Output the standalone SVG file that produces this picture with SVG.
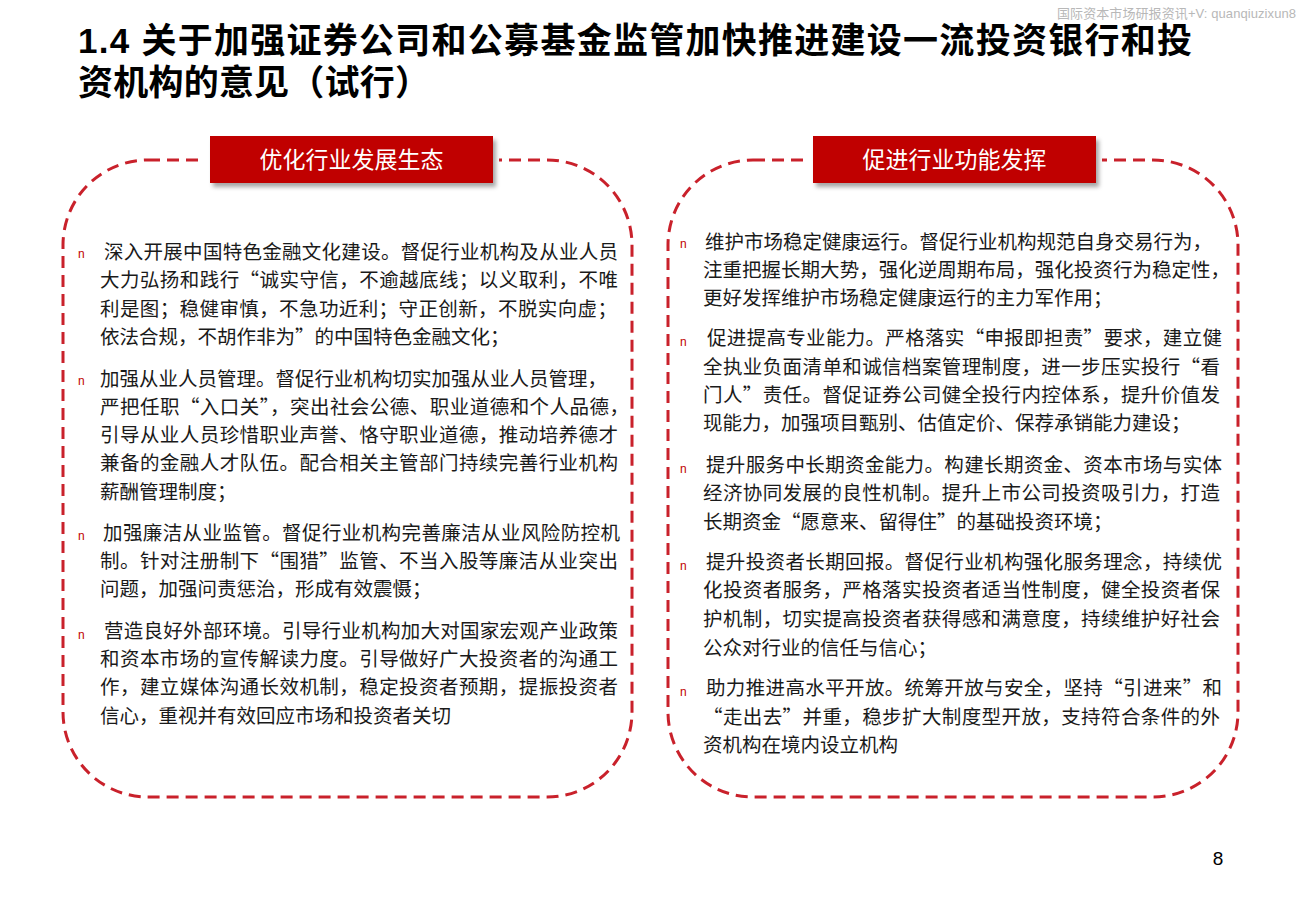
<svg xmlns="http://www.w3.org/2000/svg" width="1300" height="900" viewBox="0 0 1300 900">
<defs>
<style>
.title{font-family:"Liberation Sans","Noto Sans CJK SC",sans-serif;font-weight:bold;font-size:35px;fill:#000}
.wm{font-family:"Liberation Sans","Noto Sans CJK SC",sans-serif;font-size:13px;fill:#b8b8b8}
.hd{font-family:"Noto Sans CJK SC",sans-serif;font-size:23px;fill:#fff;text-anchor:middle}
.hdbox{fill:#c00000}
.frame{fill:none;stroke:#c9212b;stroke-width:3;stroke-dasharray:12 7}
.tx{font-family:"Noto Sans CJK SC",sans-serif;font-size:19.5px;fill:#1a1a1a}
.bl{font-family:"Liberation Sans",sans-serif;font-size:12px;fill:#c00000}
.pg{font-family:"Liberation Sans",sans-serif;font-size:19px;fill:#000;text-anchor:middle}
</style>
<filter id="sh" x="-10%" y="-20%" width="125%" height="160%">
<feDropShadow dx="3" dy="4" stdDeviation="2" flood-color="#000" flood-opacity="0.35"/>
</filter>
</defs>
<rect width="1300" height="900" fill="#fff"/>
<text class="wm" x="1296" y="18" text-anchor="end" textLength="239" lengthAdjust="spacing">国际资本市场研报资讯+V: quanqiuzixun8</text>
<text class="title" x="78" y="53" textLength="1114" lengthAdjust="spacing">1.4 关于加强证券公司和公募基金监管加快推进建设一流投资银行和投</text>
<text class="title" x="78" y="95" textLength="352" lengthAdjust="spacing">资机构的意见（试行）</text>

<g id="left-panel">
<rect class="frame" x="63" y="160" width="569" height="637" rx="85" ry="85"/>
<rect x="204" y="130" width="295" height="60" fill="#fff"/>
<rect class="hdbox" x="210" y="136" width="283" height="47" filter="url(#sh)"/>
<text class="hd" x="351.5" y="168">优化行业发展生态</text>
<text class="bl" x="78" y="258">n</text>
<text class="tx" x="104" y="259" textLength="514" lengthAdjust="spacing">深入开展中国特色金融文化建设。督促行业机构及从业人员</text>
<text class="tx" x="100" y="287.3" textLength="518" lengthAdjust="spacing">大力弘扬和践行“诚实守信，不逾越底线；以义取利，不唯</text>
<text class="tx" x="100" y="315.6" textLength="517" lengthAdjust="spacing">利是图；稳健审慎，不急功近利；守正创新，不脱实向虚；</text>
<text class="tx" x="100" y="344">依法合规，不胡作非为”的中国特色金融文化；</text>
<text class="bl" x="78" y="385">n</text>
<text class="tx" x="100" y="385.5">加强从业人员管理。督促行业机构切实加强从业人员管理，</text>
<text class="tx" x="100" y="414" textLength="529" lengthAdjust="spacing">严把任职“入口关”，突出社会公德、职业道德和个人品德，</text>
<text class="tx" x="100" y="442" textLength="518" lengthAdjust="spacing">引导从业人员珍惜职业声誉、恪守职业道德，推动培养德才</text>
<text class="tx" x="100" y="470" textLength="518" lengthAdjust="spacing">兼备的金融人才队伍。配合相关主管部门持续完善行业机构</text>
<text class="tx" x="100" y="499">薪酬管理制度；</text>
<text class="bl" x="78" y="540">n</text>
<text class="tx" x="103" y="540" textLength="517" lengthAdjust="spacing">加强廉洁从业监管。督促行业机构完善廉洁从业风险防控机</text>
<text class="tx" x="100" y="568" textLength="518" lengthAdjust="spacing">制。针对注册制下“围猎”监管、不当入股等廉洁从业突出</text>
<text class="tx" x="100" y="596">问题，加强问责惩治，形成有效震慑；</text>
<text class="bl" x="78" y="639">n</text>
<text class="tx" x="104" y="638" textLength="514" lengthAdjust="spacing">营造良好外部环境。引导行业机构加大对国家宏观产业政策</text>
<text class="tx" x="100" y="666" textLength="518" lengthAdjust="spacing">和资本市场的宣传解读力度。引导做好广大投资者的沟通工</text>
<text class="tx" x="100" y="694" textLength="518" lengthAdjust="spacing">作，建立媒体沟通长效机制，稳定投资者预期，提振投资者</text>
<text class="tx" x="100" y="723">信心，重视并有效回应市场和投资者关切</text>
</g>

<g id="right-panel">
<rect class="frame" x="668" y="160" width="570" height="637" rx="85" ry="85"/>
<rect x="807" y="130" width="295" height="60" fill="#fff"/>
<rect class="hdbox" x="813" y="136" width="283" height="47" filter="url(#sh)"/>
<text class="hd" x="954.5" y="168">促进行业功能发挥</text>
<text class="bl" x="680" y="248">n</text>
<text class="tx" x="705" y="249">维护市场稳定健康运行。督促行业机构规范自身交易行为，</text>
<text class="tx" x="703" y="277" textLength="527" lengthAdjust="spacing">注重把握长期大势，强化逆周期布局，强化投资行为稳定性，</text>
<text class="tx" x="703" y="305">更好发挥维护市场稳定健康运行的主力军作用；</text>
<text class="bl" x="680" y="346">n</text>
<text class="tx" x="707" y="345" textLength="515" lengthAdjust="spacing">促进提高专业能力。严格落实“申报即担责”要求，建立健</text>
<text class="tx" x="703" y="374" textLength="517" lengthAdjust="spacing">全执业负面清单和诚信档案管理制度，进一步压实投行“看</text>
<text class="tx" x="703" y="402" textLength="517" lengthAdjust="spacing">门人”责任。督促证券公司健全投行内控体系，提升价值发</text>
<text class="tx" x="703" y="430">现能力，加强项目甄别、估值定价、保荐承销能力建设；</text>
<text class="bl" x="680" y="473">n</text>
<text class="tx" x="706" y="472" textLength="516" lengthAdjust="spacing">提升服务中长期资金能力。构建长期资金、资本市场与实体</text>
<text class="tx" x="703" y="500" textLength="517" lengthAdjust="spacing">经济协同发展的良性机制。提升上市公司投资吸引力，打造</text>
<text class="tx" x="703" y="529">长期资金“愿意来、留得住”的基础投资环境；</text>
<text class="bl" x="680" y="570">n</text>
<text class="tx" x="706" y="569" textLength="516" lengthAdjust="spacing">提升投资者长期回报。督促行业机构强化服务理念，持续优</text>
<text class="tx" x="703" y="597" textLength="517" lengthAdjust="spacing">化投资者服务，严格落实投资者适当性制度，健全投资者保</text>
<text class="tx" x="703" y="626" textLength="517" lengthAdjust="spacing">护机制，切实提高投资者获得感和满意度，持续维护好社会</text>
<text class="tx" x="703" y="655">公众对行业的信任与信心；</text>
<text class="bl" x="680" y="696">n</text>
<text class="tx" x="706" y="695" textLength="516" lengthAdjust="spacing">助力推进高水平开放。统筹开放与安全，坚持“引进来”和</text>
<text class="tx" x="703" y="724" textLength="517" lengthAdjust="spacing">“走出去”并重，稳步扩大制度型开放，支持符合条件的外</text>
<text class="tx" x="703" y="752">资机构在境内设立机构</text>
</g>

<text class="pg" x="1218" y="865">8</text>
</svg>
